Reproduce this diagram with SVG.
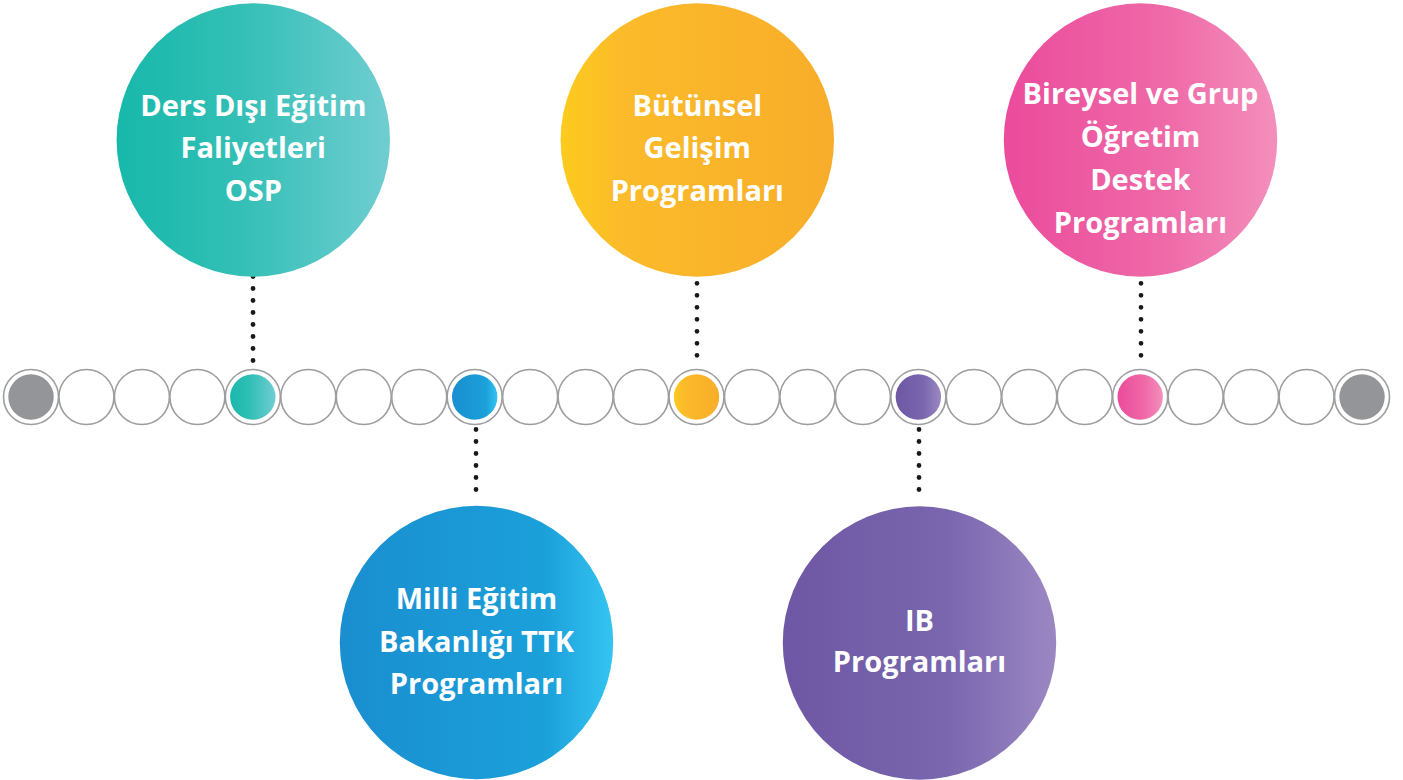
<svg xmlns="http://www.w3.org/2000/svg" width="1403" height="780" viewBox="0 0 1403 780">
<style>
.lbl{font-family:"Open Sans","Liberation Sans",sans-serif;font-weight:700;font-size:29px;fill:#ffffff;text-anchor:middle}
.ring{fill:#ffffff;stroke:#9d9d9f;stroke-width:1.6}
.dots{stroke:#1a1a1a;stroke-width:4.8;stroke-linecap:round;stroke-dasharray:0 12;fill:none}
</style>
<defs>
<linearGradient id="gTeal" x1="0" y1="0" x2="1" y2="0"><stop offset="0" stop-color="#17b8aa"/><stop offset="0.45" stop-color="#33bfb6"/><stop offset="1" stop-color="#70cdd1"/></linearGradient>
<linearGradient id="gYellow" x1="0" y1="0" x2="1" y2="0"><stop offset="0" stop-color="#fdcb1e"/><stop offset="0.22" stop-color="#fbbb2a"/><stop offset="1" stop-color="#f8ad2a"/></linearGradient>
<linearGradient id="gPink" x1="0" y1="0" x2="1" y2="0"><stop offset="0" stop-color="#eb4b9b"/><stop offset="0.6" stop-color="#ef6aa8"/><stop offset="1" stop-color="#f38fbb"/></linearGradient>
<linearGradient id="gBlue" x1="0" y1="0" x2="1" y2="0"><stop offset="0" stop-color="#1a8ecf"/><stop offset="0.75" stop-color="#1ba0da"/><stop offset="1" stop-color="#35c4f1"/></linearGradient>
<linearGradient id="gPurple" x1="0" y1="0" x2="1" y2="0"><stop offset="0" stop-color="#6e57a4"/><stop offset="0.6" stop-color="#7966ae"/><stop offset="1" stop-color="#9b88c2"/></linearGradient>
</defs>
<g id="connectors">
<line class="dots" x1="253" y1="276.5" x2="253" y2="372"/>
<line class="dots" x1="697" y1="283.3" x2="697" y2="367.3"/>
<line class="dots" x1="1141" y1="283.3" x2="1141" y2="367.3"/>
<line class="dots" x1="476" y1="429.5" x2="476" y2="501.5"/>
<line class="dots" x1="919" y1="429.5" x2="919" y2="501.5"/>
</g>
<g id="timeline">
<circle class="ring" cx="31" cy="397" r="27.5"/>
<circle class="ring" cx="86.46" cy="397" r="27.5"/>
<circle class="ring" cx="141.92" cy="397" r="27.5"/>
<circle class="ring" cx="197.38" cy="397" r="27.5"/>
<circle class="ring" cx="252.84" cy="397" r="27.5"/>
<circle class="ring" cx="308.3" cy="397" r="27.5"/>
<circle class="ring" cx="363.76" cy="397" r="27.5"/>
<circle class="ring" cx="419.22" cy="397" r="27.5"/>
<circle class="ring" cx="474.68" cy="397" r="27.5"/>
<circle class="ring" cx="530.14" cy="397" r="27.5"/>
<circle class="ring" cx="585.6" cy="397" r="27.5"/>
<circle class="ring" cx="641.06" cy="397" r="27.5"/>
<circle class="ring" cx="696.52" cy="397" r="27.5"/>
<circle class="ring" cx="751.98" cy="397" r="27.5"/>
<circle class="ring" cx="807.44" cy="397" r="27.5"/>
<circle class="ring" cx="862.9" cy="397" r="27.5"/>
<circle class="ring" cx="918.36" cy="397" r="27.5"/>
<circle class="ring" cx="973.82" cy="397" r="27.5"/>
<circle class="ring" cx="1029.28" cy="397" r="27.5"/>
<circle class="ring" cx="1084.74" cy="397" r="27.5"/>
<circle class="ring" cx="1140.2" cy="397" r="27.5"/>
<circle class="ring" cx="1195.66" cy="397" r="27.5"/>
<circle class="ring" cx="1251.12" cy="397" r="27.5"/>
<circle class="ring" cx="1306.58" cy="397" r="27.5"/>
<circle class="ring" cx="1362.04" cy="397" r="27.5"/>
<circle cx="31" cy="397" r="22.7" fill="#939598"/>
<circle cx="252.84" cy="397" r="22.7" fill="url(#gTeal)"/>
<circle cx="474.68" cy="397" r="22.7" fill="url(#gBlue)"/>
<circle cx="696.52" cy="397" r="22.7" fill="url(#gYellow)"/>
<circle cx="918.36" cy="397" r="22.7" fill="url(#gPurple)"/>
<circle cx="1140.2" cy="397" r="22.7" fill="url(#gPink)"/>
<circle cx="1362.04" cy="397" r="22.7" fill="#939598"/>
</g>
<g id="node-ders">
<circle cx="253.3" cy="140" r="136.7" fill="url(#gTeal)"/>
<text class="lbl" x="253.3" y="116">Ders Dışı Eğitim</text>
<text class="lbl" x="253.3" y="158">Faliyetleri</text>
<text class="lbl" x="253.3" y="200.5">OSP</text>
</g>
<g id="node-butunsel">
<circle cx="697.3" cy="140" r="136.7" fill="url(#gYellow)"/>
<text class="lbl" x="697.3" y="116">Bütünsel</text>
<text class="lbl" x="697.3" y="158.3">Gelişim</text>
<text class="lbl" x="697.3" y="200.5">Programları</text>
</g>
<g id="node-bireysel">
<circle cx="1140.5" cy="140" r="136.7" fill="url(#gPink)"/>
<text class="lbl" x="1140.5" y="104">Bireysel ve Grup</text>
<text class="lbl" x="1140.5" y="147">Öğretim</text>
<text class="lbl" x="1140.5" y="190">Destek</text>
<text class="lbl" x="1140.5" y="232.5">Programları</text>
</g>
<g id="node-meb">
<circle cx="476.5" cy="642.5" r="136.7" fill="url(#gBlue)"/>
<text class="lbl" x="476.5" y="609.3">Milli Eğitim</text>
<text class="lbl" x="476.5" y="651.7">Bakanlığı TTK</text>
<text class="lbl" x="476.5" y="694">Programları</text>
</g>
<g id="node-ib">
<circle cx="919.5" cy="643" r="136.7" fill="url(#gPurple)"/>
<text class="lbl" x="919.5" y="631">IB</text>
<text class="lbl" x="919.5" y="672.3">Programları</text>
</g>
</svg>
